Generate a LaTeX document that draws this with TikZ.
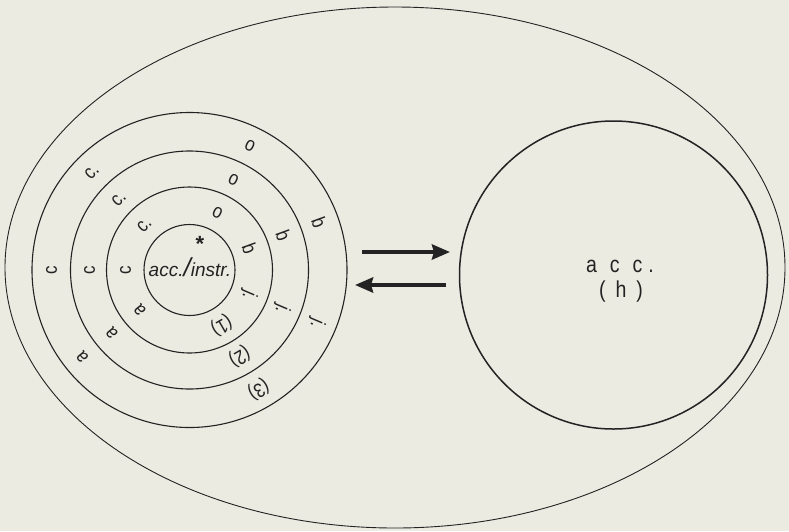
\documentclass[tikz,border=0pt]{standalone}
\usepackage{fontspec}
\setmainfont{Liberation Sans}
\newfontfamily\lettering[FakeStretch=0.85]{Liberation Sans}
\usetikzlibrary{arrows.meta}
\definecolor{paper}{RGB}{235,235,226}
\definecolor{ink}{RGB}{35,35,35}
\tikzset{
  ringline/.style={draw=ink, line width=1.1pt, circle, inner sep=0pt},
  ringlbl/.style={text=ink, font=\lettering\fontsize{20}{20}\selectfont, inner sep=0pt},
  bigtext/.style={text=ink, font=\lettering\fontsize{23}{23}\selectfont, inner sep=0pt},
  bigarrow/.style={draw=ink, line width=4pt, -{Stealth[length=18pt,width=15pt,inset=2pt]}},
}
\begin{document}
\begin{tikzpicture}[x=1pt,y=1pt]
\fill[paper] (0,0) rectangle (789,-531);
\useasboundingbox (0,0) rectangle (789,-531);
% outer ellipse
\draw[ink, line width=0.9pt] (395,-267.5) ellipse [x radius=390, y radius=260.5];
% left concentric circles
\coordinate (L) at (189.5,-270);
\node[ringline, minimum size=91pt] (core) at (L) {};
\node[ringline, minimum size=166pt] (ring1) at (L) {};
\node[ringline, minimum size=238pt] (ring2) at (L) {};
\node[ringline, minimum size=315pt] (ring3) at (L) {};
% right circle
\node[ringline, line width=1.5pt, minimum size=308pt] (right) at (613.5,-275) {};
% core text
\node[text=ink, font=\fontsize{19}{19}\selectfont\itshape, inner sep=0pt] (coretext) at (190,-267) {acc.{\fontsize{26}{26}\selectfont/}instr.};
\node[text=ink, font=\fontsize{22}{22}\selectfont\bfseries, inner sep=0pt] (star) at (200,-244) {*};
% ring labels: acc. obj. (n)
\foreach \n/\r in {1/64,2/100,3/138}{
  \foreach \t/\a/\k in {a/219/a, c/180/c, c./135/cc, o/64/o, b/20/b, j./-23/j, {(\n)}/-60/num}{
    \node[ringlbl, rotate=\a-90] (r\n\k) at ([shift={(\a:\r)}]L) {\t};
  }
}
% arrows
\coordinate (a1s) at (362,-252);
\coordinate (a1e) at (450,-252);
\coordinate (a2s) at (446,-285);
\coordinate (a2e) at (355,-285);
\draw[bigarrow] (a1s) -- (a1e);
\draw[bigarrow] (a2s) -- (a2e);
% right text
\node[bigtext] (acc) at (620,-266) {a\hspace{13pt}c\hspace{13pt}c\hspace{6pt}.};
\node[bigtext] (hh) at (621,-292) {(\hspace{10pt}h\hspace{10pt})};
\end{tikzpicture}
\end{document}
